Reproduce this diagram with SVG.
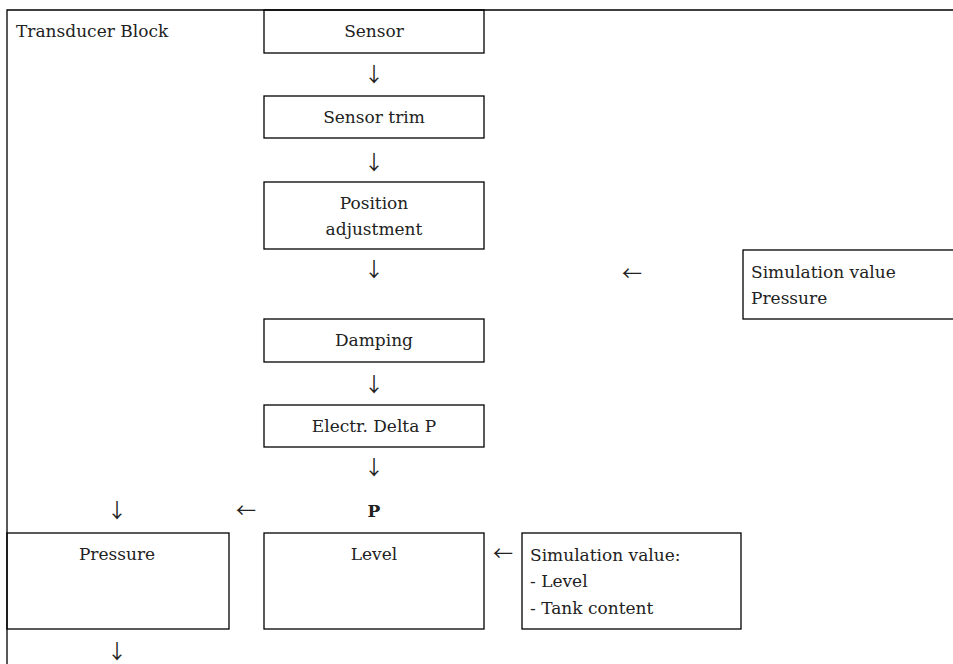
<svg xmlns="http://www.w3.org/2000/svg" width="953" height="664" viewBox="0 0 953 664">
<style>
.box{fill:none;stroke:#000;stroke-width:1.3}
.t{font-family:"DejaVu Serif",serif;font-size:17px;fill:#222}
.c{text-anchor:middle}
.b{font-weight:bold}
.arr{font-family:"Noto Sans CJK JP","Noto Sans CJK SC",sans-serif;font-size:20px;fill:#222;text-anchor:middle}
</style>
<rect width="953" height="664" fill="#fff"/>
<g id="frame">
<path class="box" d="M7,664 V10 H953"/>
<text class="t" x="16" y="37">Transducer Block</text>
</g>
<g id="sensor"><rect class="box" x="264" y="10" width="220" height="43"/><text class="t c" x="374" y="37">Sensor</text></g>
<g id="sensor-trim"><rect class="box" x="264" y="96" width="220" height="42"/><text class="t c" x="374" y="123">Sensor trim</text></g>
<g id="position-adjustment"><rect class="box" x="264" y="182" width="220" height="67"/><text class="t c" x="374" y="209">Position</text><text class="t c" x="374" y="235">adjustment</text></g>
<g id="sim-pressure"><rect class="box" x="743" y="250" width="230" height="69"/><text class="t" x="751" y="278">Simulation value</text><text class="t" x="751" y="304">Pressure</text></g>
<g id="damping"><rect class="box" x="264" y="319" width="220" height="43"/><text class="t c" x="374" y="346">Damping</text></g>
<g id="electr-delta-p"><rect class="box" x="264" y="405" width="220" height="42"/><text class="t c" x="374" y="432">Electr. Delta P</text></g>
<g id="p"><text class="t c b" x="374" y="517">P</text></g>
<g id="pressure"><rect class="box" x="7" y="533" width="222" height="96"/><text class="t c" x="117" y="560">Pressure</text></g>
<g id="level"><rect class="box" x="264" y="533" width="220" height="96"/><text class="t c" x="374" y="560">Level</text></g>
<g id="sim-level"><rect class="box" x="522" y="533" width="219" height="96"/><text class="t" x="530" y="561">Simulation value:</text><text class="t" x="530" y="587">- Level</text><text class="t" x="530" y="614">- Tank content</text></g>
<g id="connectors">
<text class="arr" x="374" y="82">↓</text>
<text class="arr" x="374" y="170">↓</text>
<text class="arr" x="374" y="277">↓</text>
<text class="arr" x="632" y="281">←</text>
<text class="arr" x="374" y="392">↓</text>
<text class="arr" x="374" y="475">↓</text>
<text class="arr" x="117" y="518">↓</text>
<text class="arr" x="246" y="518">←</text>
<text class="arr" x="503" y="561">←</text>
<text class="arr" x="117" y="659">↓</text>
</g>
</svg>
